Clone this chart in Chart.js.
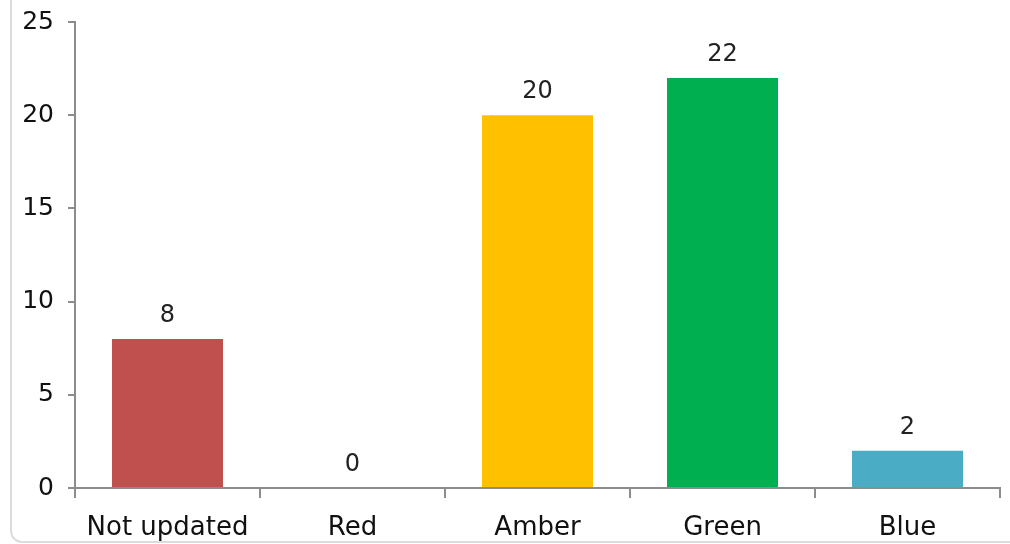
<!DOCTYPE html>
<html>
<head>
<meta charset="utf-8">
<script src="https://cdn.jsdelivr.net/npm/chart.js@4"></script>
<style>
  html, body { margin: 0; padding: 0; background: #fff; }
  .wrap { position: relative; width: 1010px; height: 544px; overflow: hidden; }
  .frame { position: absolute; left: 10px; top: -30px; width: 1100px; height: 573px;
           border: 2px solid #dcdcdc; border-radius: 12px; box-sizing: border-box; }
  canvas { position: absolute; left: 0; top: 0; }
</style>
</head>
<body>
<div class="wrap">
  <div class="frame"></div>
  <canvas id="statusChart" width="1010" height="544"></canvas>
</div>
<script>
  const categories = ['Not updated', 'Red', 'Amber', 'Green', 'Blue'];
  const counts = [8, 0, 20, 22, 2];
  const barColors = ['#C0504D', '#FF0000', '#FFC000', '#00B050', '#4BACC6'];
  const yTicks = [0, 5, 10, 15, 20, 25];

  const fontFamily = '"DejaVu Sans", sans-serif';

  // draw the value above each bar
  const valueLabels = {
    id: 'valueLabels',
    afterDatasetsDraw(chart) {
      const ctx = chart.ctx;
      const meta = chart.getDatasetMeta(0);
      ctx.save();
      ctx.font = '24px ' + fontFamily;
      ctx.fillStyle = '#222';
      ctx.textAlign = 'center';
      ctx.textBaseline = 'bottom';
      meta.data.forEach((bar, i) => {
        ctx.fillText(String(counts[i]), bar.x, bar.y - 11);
      });
      ctx.restore();
    }
  };

  new Chart(document.getElementById('statusChart'), {
    type: 'bar',
    data: {
      labels: categories,
      datasets: [{
        data: counts,
        backgroundColor: barColors,
        categoryPercentage: 0.6,
        barPercentage: 1.0
      }]
    },
    options: {
      responsive: false,
      animation: false,
      layout: { padding: { top: 22, right: 10, left: 0, bottom: 0 } },
      plugins: {
        legend: { display: false },
        tooltip: { enabled: false }
      },
      scales: {
        x: {
          grid: { drawOnChartArea: false, drawTicks: true, tickLength: 10, color: '#8c8c8c', lineWidth: 2, offset: true },
          border: { color: '#8c8c8c', width: 2 },
          ticks: { color: '#111', font: { family: fontFamily, size: 26 }, padding: 15 },
          afterFit(scale) { scale.height = 56; scale.paddingLeft = 0; scale.paddingRight = 0; }
        },
        y: {
          min: 0,
          max: 25,
          afterBuildTicks(scale) { scale.ticks = yTicks.map(v => ({ value: v })); },
          grid: { drawOnChartArea: false, drawTicks: true, tickLength: 7, color: '#8c8c8c', lineWidth: 2 },
          border: { color: '#8c8c8c', width: 2 },
          ticks: { color: '#111', font: { family: fontFamily, size: 25 }, padding: 14 },
          afterFit(scale) { scale.width = 75; scale.paddingTop = 0; scale.paddingBottom = 0; }
        }
      }
    },
    plugins: [valueLabels]
  });
</script>
</body>
</html>
